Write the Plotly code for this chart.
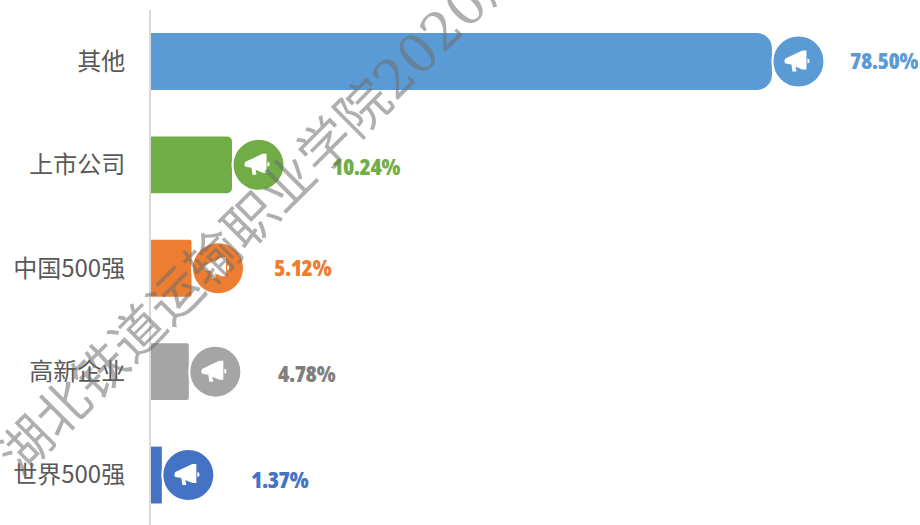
import plotly.graph_objects as go

categories = ["世界500强", "高新企业", "中国500强", "上市公司", "其他"]
values = [1.37, 4.78, 5.12, 10.24, 78.50]
colors = ["#4472C4", "#A5A5A5", "#ED7D31", "#70AD47", "#5B9BD5"]
label_colors = ["#4472C4", "#7F7F7F", "#ED7D31", "#70AD47", "#5B9BD5"]
corner_radii = [0, 2, 2, 5, 15]
label_shift_px = [118, 118, 111, 134, 112]
label_yshift_px = [-4, -1, 1, -1, 1]
watermark = "湖北铁道运输职业学院2020届"

PX_PER_UNIT = 7.91
CIRCLE_OFFSET_PX = 26.5
W, H = 920, 525
L, T = 151, 9.5
xmax = (W - L) / PX_PER_UNIT
step = 103.5

MEGAPHONE = ("M -13 3 L 4 11 L 8 11 L 8 -8 L 4 -8 L -3 -5 L -2 -10 L -6 -10 L -7 -3 "
             "L -13 -2 Q -15 0 -13 3 Z M 9 3 L 11 2 L 11 -1 L 9 -2 Z")

fig = go.Figure()
for c, v, col, r in zip(categories, values, colors, corner_radii):
    fig.add_trace(go.Bar(y=[c], x=[v], orientation="h", width=0.55,
                         marker=dict(color=col, line_width=0, cornerradius=r),
                         hoverinfo="skip"))

circle_x = [v + CIRCLE_OFFSET_PX / PX_PER_UNIT for v in values]
fig.add_trace(go.Scatter(x=circle_x, y=categories, mode="markers", cliponaxis=False,
                         marker=dict(size=52, color=colors, line=dict(color="white", width=2)),
                         hoverinfo="skip"))

shapes = []
for c, x in zip(categories, circle_x):
    shapes.append(dict(type="path", xref="x", yref="y", xsizemode="pixel", ysizemode="pixel",
                       xanchor=x, yanchor=c, path=MEGAPHONE, fillcolor="white",
                       line_width=0, layer="above"))

annotations = []
for c, v, lc, sx, sy in zip(categories, values, label_colors, label_shift_px, label_yshift_px):
    annotations.append(dict(x=v, y=c, xref="x", yref="y",
                            text=f'<span style="font-stretch:75%;letter-spacing:-0.5px">{v:.2f}%</span>',
                            showarrow=False,
                            xshift=sx, yshift=sy, xanchor="center", yanchor="middle",
                            font=dict(family="Open Sans", size=23, color=lc, weight=800)))
wm_x, wm_y = 261, 210
annotations.append(dict(x=(wm_x - L) / (W - L), y=1 - (wm_y - T) / (H - T), xref="paper", yref="paper",
                        text=watermark, showarrow=False, textangle=-45, xanchor="center", yanchor="middle",
                        font=dict(family="DejaVu Serif, Noto Sans CJK SC", size=53,
                                  color="rgba(110,110,110,0.55)")))

fig.update_layout(
    width=W, height=H, showlegend=False, barmode="overlay",
    margin=dict(l=L, r=0, t=T, b=0, pad=0),
    paper_bgcolor="white", plot_bgcolor="white",
    shapes=shapes, annotations=annotations,
    xaxis=dict(range=[0, xmax], visible=False),
    yaxis=dict(type="category", categoryorder="array", categoryarray=categories,
               range=[-50 / step, 4 + 51.5 / step],
               showline=True, linecolor="#D9D9D9", linewidth=2, showgrid=False, zeroline=False,
               ticks="", ticklabelstandoff=19,
               tickfont=dict(family="Noto Sans CJK SC", size=24, color="#595959")),
)
fig.write_html("out.html", config={"displayModeBar": False},
               post_script="document.body.style.margin='0';document.documentElement.style.overflow='hidden';")
